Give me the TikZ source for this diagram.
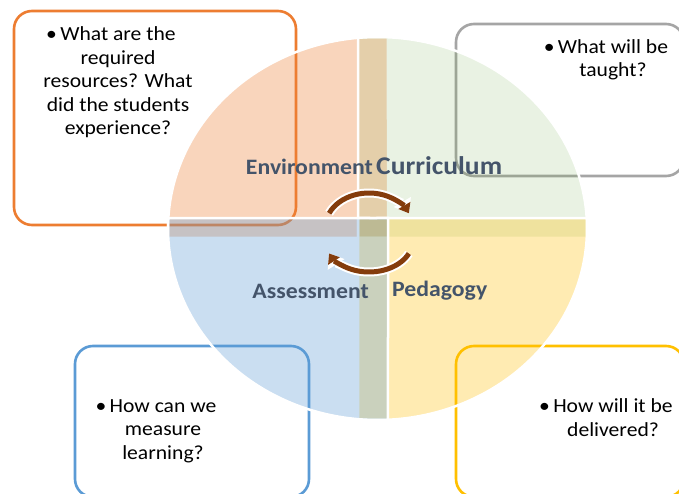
\documentclass[tikz,border=0pt]{standalone}
\usepackage{fontspec}
\setmainfont[FakeStretch=1.08]{Carlito}
\usetikzlibrary{
  arrows.meta,
  calc
}
\definecolor{envorange}{HTML}{ED7D31}
\definecolor{curgreen}{HTML}{70AD47}
\definecolor{curgray}{HTML}{A5A5A5}
\definecolor{assblue}{HTML}{5B9BD5}
\definecolor{pedyellow}{HTML}{FFC000}
\definecolor{labeltext}{HTML}{44546A}
\definecolor{turnbrown}{HTML}{843C0C}
\newcommand{\qbullet}{\llap{\textbullet\,}}
\tikzset{
  qbox/.style={
    draw=#1,
    fill=white,
    line width=2.6pt,
    rounded corners=18pt,
  },
  qtext/.style={
    font=\fontsize{20}{23.5}\selectfont,
    align=center,
    anchor=base,
    inner sep=0pt,
  },
  quarter/.style={
    fill=#1,
    fill opacity=0.32,
    draw=white,
    line width=2.5pt,
  },
  rim/.style={
    x radius=209.5,
    y radius=191.5,
  },
  qlabel/.style={
    font=\fontsize{22}{26}\selectfont\bfseries,
    text=labeltext,
    inner sep=0pt,
  },
  turnhalo/.style={
    draw=white,
    line width=9pt,
    -{Triangle[length=13pt, width=20pt, line width=0pt]},
  },
  turn/.style={
    draw=turnbrown,
    line width=5pt,
    -{Triangle[length=9pt, width=14pt, line width=0pt]},
  },
}

\begin{document}
\begin{tikzpicture}[x=1pt, y=1pt]
\useasboundingbox (0,0) rectangle (679,493);
\clip (0,0) rectangle (679,493);
\fill[white] (0,0) rectangle (679,493);

% === Corner boxes ===

\node[qbox=envorange, minimum width=282pt, minimum height=214pt]
  (envbox) at (155,375) {};
\node[qbox=curgray, minimum width=228pt, minimum height=152pt]
  (curbox) at (570,393) {};
\node[qbox=assblue, minimum width=234pt, minimum height=151pt]
  (assbox) at (192,71.5) {};
\node[qbox=pedyellow, minimum width=228pt, minimum height=151pt]
  (pedbox) at (570,71.5) {};

% texts sit on the baseline of their last line
\node[qtext] (envtext) at (118,358)
  {\qbullet What are the\\required\\resources? What\\did the students\\experience?};
\node[qtext] (curtext) at (613,416)
  {\qbullet What will be\\taught?};
\node[qtext] (asstext) at (163,34)
  {\qbullet How can we\\measure\\learning?};
\node[qtext] (pedtext) at (613,57)
  {\qbullet How will it be\\delivered?};

% === Quarters of the wheel ===

\coordinate (ctr) at (377.5,264.5);

\filldraw[quarter=envorange]
  (388,255) -- ($(ctr)+(87.13:209.5 and 191.5)$)
  arc[rim, start angle=87.13, end angle=182.84] -- cycle;
\filldraw[quarter=curgreen, fill opacity=0.15]
  (358,255) -- ($(ctr)+(-2.84:209.5 and 191.5)$)
  arc[rim, start angle=-2.84, end angle=95.34] -- cycle;
\filldraw[quarter=pedyellow, fill opacity=0.30]
  (358,275) -- ($(ctr)+(-95.34:209.5 and 191.5)$)
  arc[rim, start angle=-95.34, end angle=3.14] -- cycle;
\filldraw[quarter=assblue]
  (388,275) -- ($(ctr)+(176.86:209.5 and 191.5)$)
  arc[rim, start angle=176.86, end angle=272.87] -- cycle;

% === Quarter titles ===

\node[qlabel, anchor=base east] (envlabel) at (373,318) {Environment};
\node[qlabel, anchor=base west, font=\fontsize{25.5}{30}\selectfont\bfseries]
  (curlabel) at (376,318) {Curriculum};
\node[qlabel, anchor=base east] (asslabel) at (369,195) {Assessment};
\node[qlabel, anchor=base west] (pedlabel) at (392,196.5) {Pedagogy};

% === Turning arrows ===

\coordinate (hubtop) at (369,265);
\coordinate (hubbot) at (369,253);

\draw[turnhalo] ($(hubtop)+(155:44 and 35)$)
  arc[start angle=155, end angle=25, x radius=44, y radius=35];
\draw[turn] ($(hubtop)+(155:44 and 35)$)
  arc[start angle=155, end angle=25, x radius=44, y radius=35];

\draw[turnhalo] ($(hubbot)+(-25:44 and 32)$)
  arc[start angle=-25, end angle=-155, x radius=44, y radius=32];
\draw[turn] ($(hubbot)+(-25:44 and 32)$)
  arc[start angle=-25, end angle=-155, x radius=44, y radius=32];

\end{tikzpicture}
\end{document}
